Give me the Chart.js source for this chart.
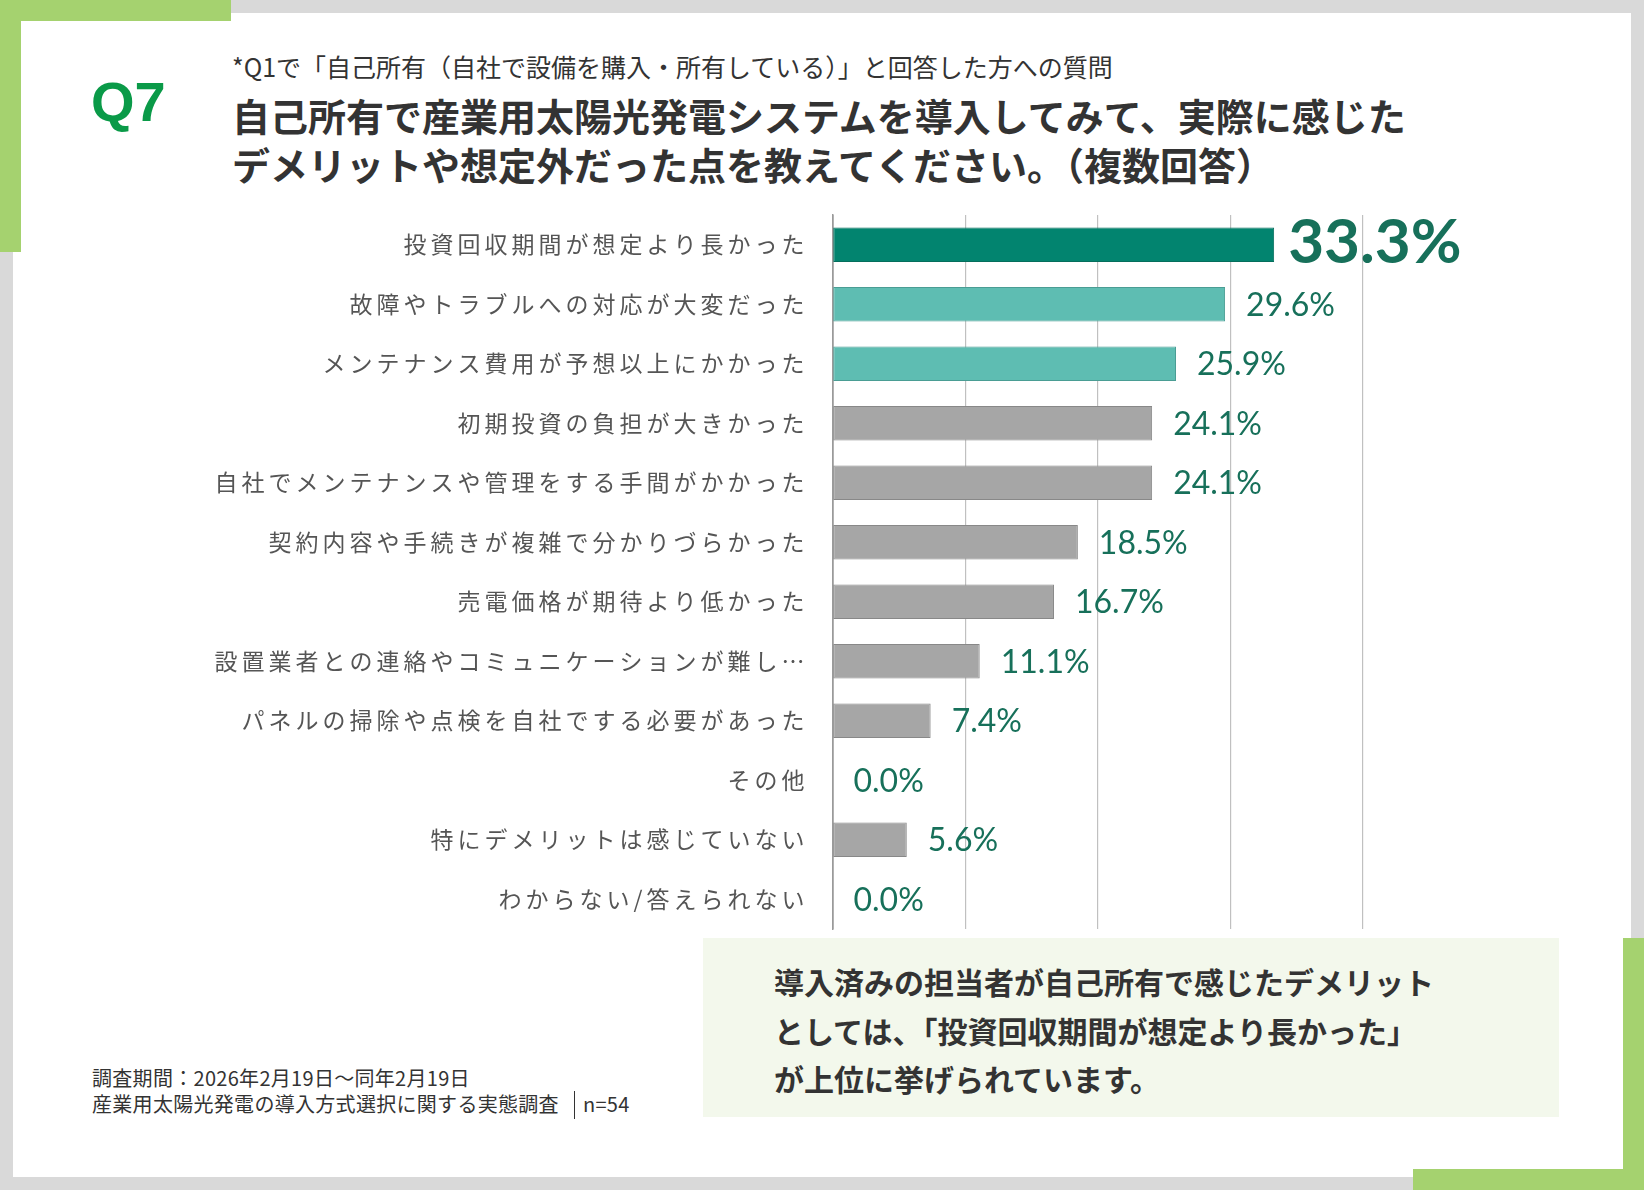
<!DOCTYPE html>
<html lang="ja">
<head>
<meta charset="utf-8">
<title>Q7 デメリット</title>
<script src="https://cdn.jsdelivr.net/npm/chart.js@4.4.1/dist/chart.umd.min.js"></script>
<style>
  html, body { margin: 0; padding: 0; }
  body { width: 1644px; height: 1190px; position: relative; background: #fff; overflow: hidden;
         font-family: "Noto Sans CJK JP", sans-serif; color: #333; }
  .blk { position: absolute; }
  .txt { position: absolute; white-space: nowrap; line-height: 1; }
  #q7 { left: 91px; top: 69px; font: bold 56px "Liberation Sans", Arial, sans-serif; color: #0a9a48; }
  #sub { left: 232px; top: 54px; font-size: 25px; color: #333; }
  #title { left: 232px; top: 90px; font-size: 38px; font-weight: 700; line-height: 49px; color: #333; }
  #box { left: 703px; top: 938px; width: 856px; height: 179px; background: #f3f8ec; }
  #boxText { left: 774px; top: 957px; font-size: 30px; font-weight: 700; line-height: 48.5px; color: #333; }
  #foot { left: 92px; top: 1065px; font-size: 20px; line-height: 26px; color: #333; letter-spacing: 0.3px; }
  #foot .sep { display: inline-block; width: 0; height: 28px; vertical-align: -7px;
               border-left: 1.5px solid #333; margin-left: 15px; margin-right: 8px; }
  #chartWrap { position: absolute; left: 180px; top: 200px; width: 1300px; height: 760px; }
</style>
</head>
<body>
<!-- frame -->
<div class="blk" style="left:231px;top:0;width:1413px;height:13px;background:#d9d9d9"></div>
<div class="blk" style="left:0;top:0;width:231px;height:21px;background:#a5d26f"></div>
<div class="blk" style="left:0;top:0;width:21px;height:252px;background:#a5d26f"></div>
<div class="blk" style="left:0;top:252px;width:13px;height:938px;background:#d9d9d9"></div>
<div class="blk" style="left:1631px;top:0;width:13px;height:938px;background:#d9d9d9"></div>
<div class="blk" style="left:1623px;top:938px;width:21px;height:252px;background:#a5d26f"></div>
<div class="blk" style="left:0;top:1177px;width:1413px;height:13px;background:#d9d9d9"></div>
<div class="blk" style="left:1413px;top:1169px;width:231px;height:21px;background:#a5d26f"></div>

<div id="q7" class="txt">Q7</div>
<div id="sub" class="txt">*Q1で「自己所有（自社で設備を購入・所有している）」と回答した方への質問</div>
<div id="title" class="txt">自己所有で産業用太陽光発電システムを導入してみて、実際に感じた<br>デメリットや想定外だった点を教えてください。（複数回答）</div>

<div id="chartWrap"><canvas id="c" width="1300" height="760"></canvas></div>

<div id="box" class="blk"></div>
<div id="boxText" class="txt">導入済みの担当者が自己所有で感じたデメリット<br>としては、「投資回収期間が想定より長かった」<br>が上位に挙げられています。</div>

<div id="foot" class="txt">調査期間：2026年2月19日～同年2月19日<br>産業用太陽光発電の導入方式選択に関する実態調査<span class="sep"></span>n=54</div>

<script>
// categories (top to bottom)
var categories = [
  "投資回収期間が想定より長かった",
  "故障やトラブルへの対応が大変だった",
  "メンテナンス費用が予想以上にかかった",
  "初期投資の負担が大きかった",
  "自社でメンテナンスや管理をする手間がかかった",
  "契約内容や手続きが複雑で分かりづらかった",
  "売電価格が期待より低かった",
  "設置業者との連絡やコミュニケーションが難し…",
  "パネルの掃除や点検を自社でする必要があった",
  "その他",
  "特にデメリットは感じていない",
  "わからない/答えられない"
];
// percent of respondents (n=54)
var values = [33.3, 29.6, 25.9, 24.1, 24.1, 18.5, 16.7, 11.1, 7.4, 0.0, 5.6, 0.0];
// x axis range (ticks hidden, grid only)
var axisMin = 0;
var axisMax = 40;
var axisStep = 10;

function barFill(i) {
  if (i === 0) return "#02846f";
  if (i < 3) return "#5ebdb2";
  return "#a6a6a6";
}
function barEdge(i) {
  if (i === 0) return "#056e5c";
  if (i < 3) return "#4a9d94";
  return "#888888";
}

// spaced-out category labels
var spacing = {
  id: "spacing",
  beforeDraw: function (chart) { chart.ctx.letterSpacing = "4px"; },
  afterDatasetsDraw: function (chart) { chart.ctx.letterSpacing = "0px"; }
};

// value labels at the bar ends
var valueLabels = {
  id: "valueLabels",
  afterDatasetsDraw: function (chart) {
    var ctx = chart.ctx;
    var meta = chart.getDatasetMeta(0);
    ctx.save();
    ctx.letterSpacing = "0px";
    ctx.fillStyle = "#17705a";
    ctx.textAlign = "left";
    meta.data.forEach(function (bar, i) {
      var txt = values[i].toFixed(1) + "%";
      if (i === 0) {
        ctx.font = "bold 62px Lato";
        ctx.textBaseline = "alphabetic";
        ctx.fillText(txt, bar.x + 14, bar.y + bar.height / 2 + 1);
      } else {
        ctx.font = "32px Lato";
        ctx.textBaseline = "middle";
        ctx.fillText(txt, bar.x + 21, bar.y + 1);
      }
    });
    ctx.restore();
  }
};

new Chart(document.getElementById("c"), {
  type: "bar",
  data: {
    labels: categories,
    datasets: [{
      data: values,
      backgroundColor: function (c) { return barFill(c.dataIndex); },
      borderColor: function (c) { return barEdge(c.dataIndex); },
      borderWidth: function (c) { return values[c.dataIndex] > 0 ? 1 : 0; },
      borderSkipped: false,
      barPercentage: 0.58,
      categoryPercentage: 1
    }]
  },
  options: {
    indexAxis: "y",
    responsive: false,
    animation: false,
    layout: { padding: { left: 0, right: 117, top: 15, bottom: 31 } },
    plugins: { legend: { display: false }, tooltip: { enabled: false } },
    scales: {
      x: {
        min: axisMin,
        max: axisMax,
        ticks: { display: false, stepSize: axisStep },
        grid: {
          drawTicks: false,
          color: function (c) { return c.index === 0 ? "#9a9a9a" : "#c0c0c0"; },
          lineWidth: function (c) { return c.index === 0 ? 1.5 : 1.2; }
        },
        border: { display: false },
        afterFit: function (s) {
          s.height = 0;
          s.paddingLeft = 0; s.paddingRight = 0; s.paddingTop = 0; s.paddingBottom = 0;
        }
      },
      y: {
        grid: { display: false, drawTicks: false },
        border: { display: true, color: "#9a9a9a", width: 1.5 },
        ticks: {
          autoSkip: false,
          padding: 24,
          color: "#555555",
          font: { family: "Noto Sans CJK JP", size: 23 }
        },
        afterFit: function (s) {
          s.width = 652.5;
          s.paddingTop = 0; s.paddingBottom = 0;
        }
      }
    }
  },
  plugins: [spacing, valueLabels]
});
</script>
</body>
</html>
